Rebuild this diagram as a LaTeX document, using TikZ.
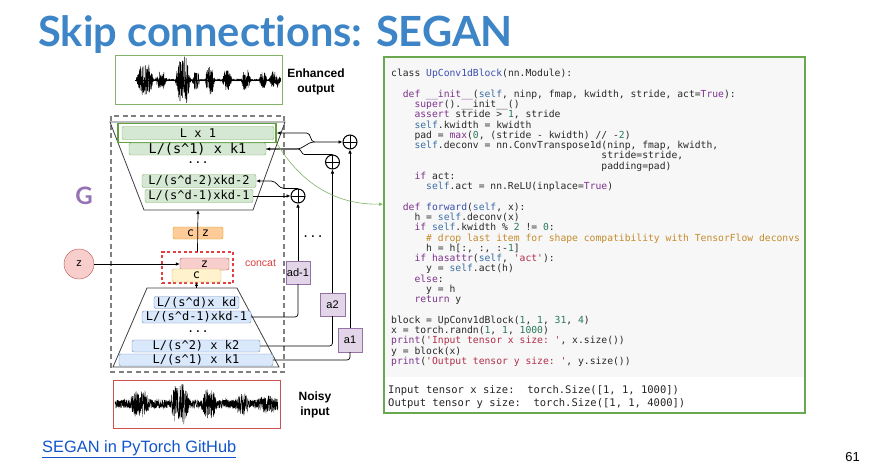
\documentclass[tikz,border=0pt]{standalone}
\usepackage{fontspec}
\setmainfont{Liberation Sans}
\setmonofont{DejaVu Sans Mono}
\newfontfamily\latofont[Ligatures={NoCommon,NoDiscretionary}]{Lato}
\usetikzlibrary{arrows.meta,calc}

\definecolor{titleblue}{RGB}{61,133,198}
\definecolor{decfill}{RGB}{213,232,212}
\definecolor{decline}{RGB}{130,179,102}
\definecolor{hlgreen}{RGB}{96,160,64}
\definecolor{encfill}{RGB}{218,232,252}
\definecolor{encline}{RGB}{108,142,191}
\definecolor{afill}{RGB}{225,213,231}
\definecolor{aline}{RGB}{150,115,166}
\definecolor{zfill}{RGB}{248,206,204}
\definecolor{zline}{RGB}{184,84,80}
\definecolor{cfill}{RGB}{255,242,204}
\definecolor{cline}{RGB}{214,182,86}
\definecolor{czfill}{RGB}{255,204,153}
\definecolor{czline}{RGB}{215,155,0}
\definecolor{concatred}{RGB}{224,64,64}
\definecolor{gpurple}{RGB}{150,115,180}
\definecolor{codegreen}{RGB}{106,168,79}
\definecolor{codebg}{RGB}{247,247,247}
\definecolor{codetext}{RGB}{40,40,40}
\definecolor{pykw}{RGB}{125,50,140}
\definecolor{pyname}{RGB}{58,79,176}
\definecolor{pyself}{RGB}{59,110,165}
\definecolor{pystr}{RGB}{178,45,74}
\definecolor{pycom}{RGB}{197,139,43}
\definecolor{pynum}{RGB}{42,122,90}
\definecolor{linkblue}{RGB}{17,85,204}
\definecolor{noisyred}{RGB}{204,80,80}

% code colouring
\newcommand\pk[1]{\textcolor{pykw}{#1}}
\newcommand\pn[1]{\textcolor{pyname}{#1}}
\newcommand\ps[1]{\textcolor{pyself}{#1}}
\newcommand\pq[1]{\textcolor{pystr}{#1}}
\newcommand\pc[1]{\textcolor{pycom}{#1}}
\newcommand\pd[1]{\textcolor{pynum}{#1}}
\newcommand\ind[1]{\hspace*{#1\fontcharwd\font`\x}}

% flat-topped burst envelope for the waveforms
\pgfmathdeclarefunction{wavebump}{4}{\pgfmathparse{#2*min(1,1.8*max(0,1-abs(#1-#3)/#4))}}

\begin{document}
\begin{tikzpicture}[x=1pt, y=-1pt,
  every node/.style={inner sep=0pt},
  row/.style={rounded corners=2pt, minimum height=12pt, font=\ttfamily\fontsize{12}{12}\selectfont},
  decrow/.style={row, fill=decfill, draw=decline},
  encrow/.style={row, fill=encfill, draw=encline},
  abox/.style={fill=afill, draw=aline, minimum width=24pt, minimum height=23pt, font=\fontsize{11}{11}\selectfont},
  osum/.style={circle, draw, line width=1pt, minimum size=14pt,
    path picture={\draw[line width=1pt] (path picture bounding box.north) -- (path picture bounding box.south)
      (path picture bounding box.west) -- (path picture bounding box.east);}},
  arr/.style={-{Latex[length=4pt,width=3.5pt]}, line width=0.7pt},
  link/.style={line width=0.7pt, rounded corners=3pt},
  trap/.style={draw=black!75, line width=0.8pt}]

\fill[white] (0,0) rectangle (880,474);

% title
\node[anchor=base west, font=\latofont\bfseries\fontsize{41.6}{41.6}\selectfont, text=titleblue] (title) at (38,46) {Skip connections: SEGAN};

% enhanced output
\pgfmathsetseed{3}
\node[draw=decline, line width=0.9pt, minimum width=167pt, minimum height=49pt] (enh) at (198.5,79.5) {};
\draw[line width=0.4pt] (135,80) -- (281,80);
\draw[line width=0.4pt] plot[domain=136:281, samples=1100] (\x, {80 + (0.5 + wavebump(\x,15,145,9) + wavebump(\x,8,161,6) + wavebump(\x,23,183,8) + wavebump(\x,9,196,4) + wavebump(\x,14,210,5) + wavebump(\x,10,227,5) + wavebump(\x,10,246,5) + wavebump(\x,8,263,4) + wavebump(\x,8,275,6))*rand});
\node[font=\bfseries\fontsize{12}{15}\selectfont, align=center] (enhtxt) at (316,82) {Enhanced\\output};

% G box
\draw[gray, line width=1.3pt, dash pattern=on 5pt off 3.5pt] (111,116) rectangle (284,372);
\node[font=\latofont\bfseries\fontsize{24}{24}\selectfont, text=gpurple] (glabel) at (84,196) {G};

% decoder
\draw[trap] (110,122) -- (285,122) -- (253,210) -- (144,210) -- cycle;
\coordinate (decbot) at (198,210);
\node[decrow, minimum width=152pt, minimum height=13pt] (dec1) at (198,133) {L x 1};
\node[draw=hlgreen, line width=1.4pt, minimum width=158pt, minimum height=19pt] (hl) at (197,133) {};
\node[decrow, minimum width=137pt, font=\ttfamily\fontsize{13.5}{13.5}\selectfont] (dec2) at (197.5,149) {L/(s\textasciicircum 1) x k1};
\node[font=\ttfamily\fontsize{12}{12}\selectfont] (dots1) at (198,163) {...};
\node[decrow, minimum width=114pt, minimum height=13pt] (dec3) at (199,181) {L/(s\textasciicircum d-2)xkd-2};
\node[decrow, minimum width=108pt, minimum height=13pt] (dec4) at (199,196) {L/(s\textasciicircum d-1)xkd-1};

% latent and concat
\node[fill=czfill, draw=czline, rounded corners=2pt, minimum width=50pt, minimum height=12pt, font=\ttfamily\fontsize{12}{12}\selectfont] (cz) at (198,233) {c\hspace{8pt}z};
\node[draw=concatred, line width=1.2pt, dash pattern=on 3pt off 2.5pt, minimum width=71pt, minimum height=31pt] (concat) at (197.5,267.5) {};
\node[fill=zfill, draw=zline, rounded corners=2pt, minimum width=49pt, minimum height=12pt, font=\ttfamily\fontsize{12}{12}\selectfont] (zbox) at (204.5,264) {z};
\node[fill=cfill, draw=cline, rounded corners=2pt, minimum width=49pt, minimum height=13pt, font=\ttfamily\fontsize{12}{12}\selectfont] (cbox) at (196.5,275.5) {c};
\node[text=concatred, font=\fontsize{10.5}{10.5}\selectfont] (concatlbl) at (260.5,263) {concat};
\node[circle, fill=zfill, draw=zline, minimum size=30pt, font=\fontsize{11}{11}\selectfont] (zin) at (79,264) {z};
\draw[arr] (zin) -- (zbox.west);
\draw[arr] (concat.north) -- (decbot);

% encoder
\draw[trap] (147,288) -- (237,288) -- (279,367) -- (113,367) -- cycle;
\coordinate (enctop) at (196.5,288);
\draw[arr] (enctop) -- (cbox.south);
\node[encrow, minimum width=85pt] (enc1) at (196.5,302.5) {L/(s\textasciicircum d)x kd};
\node[encrow, minimum width=109pt] (enc2) at (196.5,317) {L/(s\textasciicircum d-1)xkd-1};
\node[font=\ttfamily\fontsize{12}{12}\selectfont] (dots2) at (198,332) {...};
\node[encrow, minimum width=128pt] (enc3) at (196,346) {L/(s\textasciicircum 2) x k2};
\node[encrow, minimum width=154pt] (enc4) at (196,360) {L/(s\textasciicircum 1) x k1};

% skip connections
\node[abox] (ad1) at (298,272.5) {ad-1};
\node[abox, minimum width=25pt] (a2) at (332.5,304.5) {a2};
\node[abox, minimum height=24pt] (a1) at (350,340) {a1};
\node[font=\ttfamily\fontsize{12}{12}\selectfont] (dots3) at (313,237) {...};
\node[osum] (O1) at (350,142) {};
\node[osum] (O2) at (332.5,162) {};
\node[osum] (O3) at (298,196) {};

\draw[link] (enc2.east) -| (ad1.south);
\draw[link] (enc3.east) -| (a2.south);
\draw[link] (enc4.east) -| (a1.south);
\draw[arr] (ad1) -- (O3);
\draw[arr] (a2) -- (O2);
\draw[arr] (a1) -- (O1);

\draw[arr] (dec4.east) -- (O3.west);
\draw[arr] (O3.north) -- ++(-14,0) to[out=180,in=0] ($(dec3.east)+(15,0)$) -- (dec3.east);
\draw[arr] (dec2.east) -- ++(30,0) to[out=0,in=180] ($(O1.west)+(-28,0)$) -- (O1.west);
\draw[arr] ($(O1.west)+(-28,0)$) to[out=180,in=0] ($(hl.east)+(30,0)$) -- (hl.east);
\draw[arr] (O2.north) -- ++(-28,0) to[out=180,in=0] ($(dec2.east)+(32,0)$) -- (dec2.east);

% noisy input
\pgfmathsetseed{11}
\node[draw=noisyred, line width=0.9pt, minimum width=167pt, minimum height=48pt] (noisy) at (196.5,404) {};
\draw[line width=0.4pt] plot[domain=115:278, samples=1100] (\x, {404 + (4.5 + wavebump(\x,9,140,10) + wavebump(\x,16,180,10) + wavebump(\x,10,209,8) + wavebump(\x,6,242,7) + wavebump(\x,4,268,11))*rand});
\node[font=\bfseries\fontsize{12}{15}\selectfont, align=center] (noisytxt) at (315,405) {Noisy\\input};

% code panel
\fill[codebg] (385,58) rectangle (804,377);
\node[draw=codegreen, line width=1.8pt, minimum width=421pt, minimum height=356pt] (code) at (594.5,235) {};
\node[anchor=north west, align=left, text=codetext, font=\ttfamily\fontsize{9.7}{10.27}\selectfont] (src) at (391,69.2) {%
class \pn{UpConv1dBlock}(nn.Module):\\
\mbox{}\\
\ind2\pk{def} \pk{\_\_init\_\_}(\ps{self}, ninp, fmap, kwidth, stride, act=\pk{True}):\\
\ind4\pk{super}().\_\_init\_\_()\\
\ind4\pk{assert} stride > \pd{1}, stride\\
\ind4\ps{self}.kwidth = kwidth\\
\ind4pad = \pk{max}(\pd{0}, (stride - kwidth) // -\pd{2})\\
\ind4\ps{self}.deconv = nn.ConvTranspose1d(ninp, fmap, kwidth,\\
\ind{36}stride=stride,\\
\ind{36}padding=pad)\\
\ind4\pk{if} act:\\
\ind6\ps{self}.act = nn.ReLU(inplace=\pk{True})\\
\mbox{}\\
\ind2\pk{def} \pn{forward}(\ps{self}, x):\\
\ind4h = \ps{self}.deconv(x)\\
\ind4\pk{if} \ps{self}.kwidth \% \pd{2} != \pd{0}:\\
\ind6\pc{\# drop last item for shape compatibility with TensorFlow deconvs}\\
\ind6h = h[:, :, :-\pd{1}]\\
\ind4\pk{if} \pk{hasattr}(\ps{self}, \pq{'act'}):\\
\ind6y = \ps{self}.act(h)\\
\ind4\pk{else}:\\
\ind6y = h\\
\ind4\pk{return} y\\
\mbox{}\\
block = UpConv1dBlock(\pd{1}, \pd{1}, \pd{31}, \pd{4})\\
x = torch.randn(\pd{1}, \pd{1}, \pd{1000})\\
\pk{print}(\pq{'Input tensor x size: '}, x.size())\\
y = block(x)\\
\pk{print}(\pq{'Output tensor y size: '}, y.size())};
\node[anchor=north west, align=left, text=black!85, font=\ttfamily\fontsize{10.5}{13}\selectfont] (out) at (388,385) {%
Input tensor x size:\ind2torch.Size([1, 1, 1000])\\
Output tensor y size:\ind2torch.Size([1, 1, 4000])};
\draw[arr, draw=decline, line width=0.6pt] (hl.south east) .. controls (298,178) and (330,205) .. ($(code.north west)+(0,148)$);

% footer
\node[anchor=base west, text=linkblue, font=\fontsize{16.4}{16.4}\selectfont] (link) at (42,452) {\underline{SEGAN in PyTorch GitHub}};
\node[anchor=base east, font=\fontsize{13}{13}\selectfont] (pagenum) at (860,461) {61};
\end{tikzpicture}
\end{document}
